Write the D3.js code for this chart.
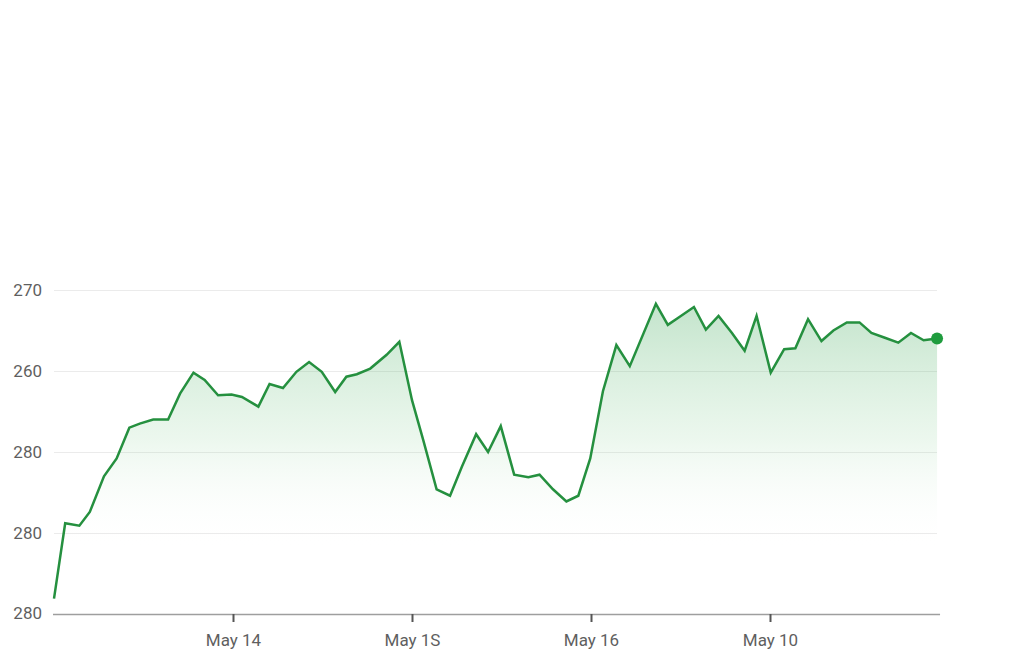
<!DOCTYPE html>
<html>
<head>
<meta charset="utf-8">
<script src="https://cdn.jsdelivr.net/npm/d3@7"></script>
<style>
  body { margin: 0; background: #fff; }
  svg { display: block; font-family: Roboto, "Noto Sans", sans-serif; }
</style>
</head>
<body>
<div id="chart"></div>
<script>
const WIDTH = 1024;
const HEIGHT = 671;

// hours since May 13 00:00
const hours = [0, 1.5, 3.4, 4.8, 6.7, 8.4, 10.1, 11.5, 13.3, 15.3, 16.9, 18.7, 20.2, 22.0, 23.8,
  25.2, 27.4, 28.9, 30.7, 32.5, 34.2, 35.9, 37.7, 39.2, 40.6, 42.4, 44.6, 46.3, 48.0, 49.5,
  51.3, 53.1, 54.7, 56.6, 58.2, 59.9, 61.7, 63.6, 65.1, 66.9, 68.7, 70.3, 71.9, 73.6, 75.4,
  77.2, 80.7, 82.3, 83.9, 85.8, 87.4, 89.1, 90.9, 92.6, 94.2, 96.1, 97.9, 99.4, 101.1, 102.9,
  104.5, 106.3, 108.0, 109.6, 111.4, 113.2, 114.9, 116.6, 118.4];

const prices = [231.9, 241.2, 240.9, 242.6, 247.0, 249.2, 253.0, 253.5, 254.0, 254.0, 257.2, 259.8, 258.9, 257.0, 257.1,
  256.8, 255.6, 258.4, 257.9, 259.9, 261.1, 259.9, 257.4, 259.3, 259.6, 260.3, 262.0, 263.6, 256.4, 251.5,
  245.4, 244.6, 248.2, 252.2, 250.0, 253.2, 247.2, 246.9, 247.2, 245.4, 243.9, 244.6, 249.2, 257.5, 263.2,
  260.6, 268.3, 265.7, 266.7, 267.9, 265.1, 266.8, 264.7, 262.5, 266.8, 259.8, 262.7, 262.8, 266.4, 263.7,
  265.0, 266.0, 266.0, 264.7, 264.1, 263.5, 264.7, 263.8, 264.0];

const yTicks = [270, 260, 250, 240, 230];
const yTickLabels = ["270", "260", "280", "280", "280"];
const xTicks = [24, 48, 72, 96];
const xTickLabels = ["May 14", "May 1S", "May 16", "May 10"];

const data = hours.map((h, i) => ({ h: h, v: prices[i] }));

const svg = d3.select("#chart")
    .append("svg")
    .attr("width", WIDTH)
    .attr("height", HEIGHT);

const x = d3.scaleLinear().domain([0, 24]).range([54, 233]);
const y = d3.scaleLinear().domain([230, 270]).range([614, 290]);

const defs = svg.append("defs");
const grad = defs.append("linearGradient")
    .attr("id", "fillGrad")
    .attr("gradientUnits", "userSpaceOnUse")
    .attr("x1", 0).attr("x2", 0)
    .attr("y1", y(268)).attr("y2", y(238));
grad.append("stop").attr("offset", "0%").attr("stop-color", "#3aa556").attr("stop-opacity", 0.3);
grad.append("stop").attr("offset", "55%").attr("stop-color", "#6cc47c").attr("stop-opacity", 0.13);
grad.append("stop").attr("offset", "100%").attr("stop-color", "#ffffff").attr("stop-opacity", 0);

// grid + y labels
const yAxis = svg.append("g")
    .attr("transform", "translate(54,0)")
    .call(d3.axisLeft(y)
        .tickValues(yTicks.slice(0, 4))
        .tickSize(-883)
        .tickPadding(12)
        .tickFormat((d, i) => yTickLabels[i]));
yAxis.select(".domain").remove();
yAxis.selectAll(".tick line").attr("stroke", "#ebebeb").attr("stroke-width", 1);
yAxis.selectAll(".tick text")
    .attr("fill", "#5f5f5f")
    .style("font-size", "17px")
    .style("font-family", "Roboto, sans-serif");

// bottom label for lowest tick (sits on the axis line)
svg.append("text")
    .attr("x", 42)
    .attr("y", y(yTicks[4]))
    .attr("dy", "0.32em")
    .attr("text-anchor", "end")
    .attr("fill", "#5f5f5f")
    .style("font-size", "17px")
    .text(yTickLabels[4]);

// area
const area = d3.area()
    .x(d => x(d.h))
    .y0(y(230))
    .y1(d => y(d.v));

svg.append("path")
    .datum(data)
    .attr("d", area)
    .attr("fill", "url(#fillGrad)");

// x axis
const xAxis = svg.append("g")
    .attr("transform", `translate(0,${y(230)})`)
    .call(d3.axisBottom(x)
        .tickValues(xTicks)
        .tickSize(8)
        .tickPadding(12)
        .tickFormat((d, i) => xTickLabels[i]));
xAxis.select(".domain")
    .attr("d", `M${x(0) - 1},0.5H${x(118.8)}`)
    .attr("stroke", "#9e9e9e")
    .attr("stroke-width", 1.5);
xAxis.selectAll(".tick line").attr("stroke", "#555").attr("stroke-width", 2);
xAxis.selectAll(".tick text")
    .attr("fill", "#5f5f5f")
    .style("font-size", "17px")
    .style("font-family", "Roboto, sans-serif");

// line
const line = d3.line()
    .x(d => x(d.h))
    .y(d => y(d.v));

svg.append("path")
    .datum(data)
    .attr("d", line)
    .attr("fill", "none")
    .attr("stroke", "#25903f")
    .attr("stroke-width", 2.5)
    .attr("stroke-linejoin", "miter");

// end dot
const last = data[data.length - 1];
svg.append("circle")
    .attr("cx", x(last.h))
    .attr("cy", y(last.v))
    .attr("r", 6)
    .attr("fill", "#1f9c3e");
</script>
</body>
</html>
